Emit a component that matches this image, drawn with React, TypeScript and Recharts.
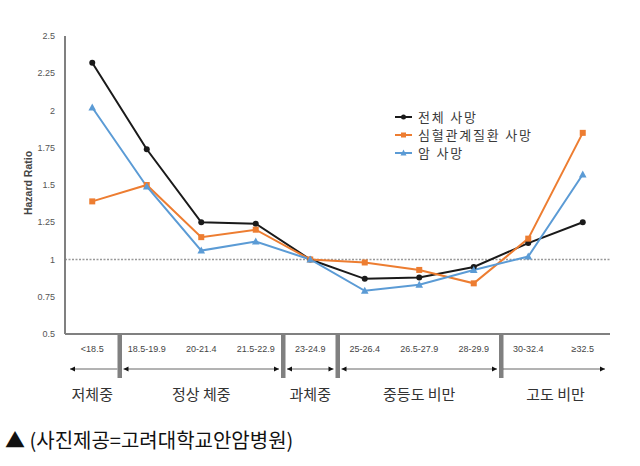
import { LineChart, Line, XAxis, YAxis, ReferenceLine, Legend } from "recharts"

// BMI categories and hazard ratios per cause of death
const bmiRanges = ["<18.5", "18.5-19.9", "20-21.4", "21.5-22.9", "23-24.9", "25-26.4", "26.5-27.9", "28-29.9", "30-32.4", "≥32.5"]
const allCause = [2.32, 1.74, 1.25, 1.24, 1.0, 0.87, 0.88, 0.95, 1.11, 1.25]
const cardiovascular = [1.39, 1.5, 1.15, 1.2, 1.0, 0.98, 0.93, 0.84, 1.14, 1.85]
const cancer = [2.02, 1.49, 1.06, 1.12, 1.0, 0.79, 0.83, 0.93, 1.02, 1.57]
const yTicks = [0.5, 0.75, 1, 1.25, 1.5, 1.75, 2, 2.25, 2.5]

// weight classes under the axis and how many BMI ranges each spans
const groupNames = ["저체중", "정상 체중", "과체중", "중등도 비만", "고도 비만"]
const groupSizes = [1, 3, 1, 3, 2]

const seriesOrder = ["all", "cvd", "cancer"]

const CHART_W = 640
const CHART_H = 410
const PLOT_LEFT = 65
const PLOT_RIGHT = 610
const BAND = (PLOT_RIGHT - PLOT_LEFT) / bmiRanges.length

const BLACK = "#1a1a1a"
const ORANGE = "#ED7D31"
const BLUE = "#5B9BD5"
const AXIS = "#808080"
const KR = "'Noto Sans CJK KR', 'Noto Sans', sans-serif"
const SMALL = "'Liberation Sans Narrow', 'Liberation Sans', sans-serif"

const data = bmiRanges.map((range, i) => ({
  range,
  all: allCause[i],
  cvd: cardiovascular[i],
  cancer: cancer[i],
}))

const groupStarts = groupSizes.map((_, g) => groupSizes.slice(0, g).reduce((a, b) => a + b, 0))

function CircleDot(props: any) {
  const { cx, cy, stroke } = props
  return <circle cx={cx} cy={cy} r={3} fill={stroke} stroke="none" />
}

function SquareDot(props: any) {
  const { cx, cy, stroke } = props
  return <rect x={cx - 3} y={cy - 3} width={6} height={6} fill={stroke} />
}

function TriangleDot(props: any) {
  const { cx, cy, stroke } = props
  return <path d={`M${cx},${cy - 4}L${cx + 3.8},${cy + 3}L${cx - 3.8},${cy + 3}Z`} fill={stroke} />
}

function arrowHead(x: number, y: number, dir: number) {
  return <path d={`M${x},${y}L${x - dir * 5},${y - 2.5}L${x - dir * 5},${y + 2.5}Z`} fill="#111" />
}

function BmiTick(props: any) {
  const { x, y, payload, index } = props
  const half = BAND / 2
  const g = groupStarts.indexOf(index)
  const last = groupNames.length - 1
  let group = null
  if (g >= 0) {
    const left = x - half
    const right = x + (groupSizes[g] - 1) * BAND + half
    const ay = y + 35
    const x1 = g === 0 ? left + 5 : g === last ? left + 2 : left + 4
    const x2 = g === 0 ? right - 2 : g === last ? right - 5 : right - 4
    group = (
      <g>
        <line x1={x1} y1={ay} x2={x2} y2={ay} stroke="#666" strokeWidth={1} />
        {g !== last && arrowHead(x1, ay, -1)}
        {g !== 0 && arrowHead(x2, ay, 1)}
        {g !== last && <rect x={right - 2} y={y} width={4.5} height={44} fill={AXIS} />}
        <text x={(left + right) / 2} y={y + 66} textAnchor="middle" fontSize={15} fill="#333" fontFamily={KR}>
          {groupNames[g]}
        </text>
      </g>
    )
  }
  return (
    <g>
      <text x={x} y={y + 18} textAnchor="middle" fontSize={9} fill="#444" fontFamily={SMALL}>
        {payload.value}
      </text>
      {group}
    </g>
  )
}

const legendMarkers: Record<string, (c: string) => any> = {
  all: (c) => <circle cx={8.5} cy={5} r={2.5} fill={c} />,
  cvd: (c) => <rect x={6} y={2.5} width={5} height={5} fill={c} />,
  cancer: (c) => <path d="M8.5,1.5L11.5,7.5L5.5,7.5Z" fill={c} />,
}

function LegendContent(props: any) {
  const items = [...(props.payload ?? [])].sort(
    (a: any, b: any) => seriesOrder.indexOf(a.dataKey) - seriesOrder.indexOf(b.dataKey)
  )
  return (
    <div style={{ fontFamily: KR, fontSize: 13, lineHeight: "18px", letterSpacing: 1.8, color: "#3a3a3a" }}>
      {items.map((item: any) => (
        <div key={item.value} style={{ display: "flex", alignItems: "center", height: 18 }}>
          <svg width={17} height={10} style={{ marginRight: 6 }}>
            <line x1={0} y1={5} x2={17} y2={5} stroke={item.color} strokeWidth={2} />
            {legendMarkers[item.dataKey]?.(item.color)}
          </svg>
          <span>{item.value}</span>
        </div>
      ))}
    </div>
  )
}

export default function App() {
  return (
    <div style={{ position: "absolute", left: 0, top: 0, width: 640, height: 466, background: "#fff" }}>
      <LineChart
        width={CHART_W}
        height={CHART_H}
        data={data}
        margin={{ top: 36, right: CHART_W - PLOT_RIGHT, left: 15, bottom: 6 }}
      >
        <XAxis
          dataKey="range"
          height={70}
          padding={{ left: BAND / 2, right: BAND / 2 }}
          tickSize={0}
          tickMargin={0}
          tickLine={false}
          interval={0}
          axisLine={{ stroke: AXIS, strokeWidth: 2 }}
          tick={<BmiTick />}
        />
        <YAxis
          domain={[0.5, 2.5]}
          ticks={yTicks}
          width={50}
          tickLine={false}
          tickMargin={4}
          axisLine={{ stroke: AXIS, strokeWidth: 2 }}
          tick={{ fontSize: 9, fill: "#555", fontFamily: SMALL }}
          label={{
            value: "Hazard Ratio",
            angle: -90,
            position: "insideLeft",
            dx: 8,
            dy: -2,
            style: { fontSize: 10.5, fontWeight: "bold", fill: "#444", fontFamily: "'Liberation Sans', sans-serif", textAnchor: "middle" },
          }}
        />
        <ReferenceLine y={1} stroke="#999" strokeWidth={1.5} strokeDasharray="2 1.5" />
        <Legend
          layout="vertical"
          align="center"
          verticalAlign="middle"
          wrapperStyle={{ left: 395, top: 107.5, width: 200 }}
          content={<LegendContent />}
        />
        <Line
          dataKey="all"
          name="전체 사망"
          stroke={BLACK}
          strokeWidth={2}
          dot={<CircleDot />}
          activeDot={false}
          isAnimationActive={false}
        />
        <Line
          dataKey="cvd"
          name="심혈관계질환 사망"
          stroke={ORANGE}
          strokeWidth={2}
          dot={<SquareDot />}
          activeDot={false}
          isAnimationActive={false}
        />
        <Line
          dataKey="cancer"
          name="암 사망"
          stroke={BLUE}
          strokeWidth={2}
          dot={<TriangleDot />}
          activeDot={false}
          isAnimationActive={false}
        />
      </LineChart>
      <div style={{ position: "absolute", left: 5, top: 425, fontFamily: KR, fontSize: 20, lineHeight: "30px", color: "#111", whiteSpace: "nowrap" }}>
        ▲ (사진제공=고려대학교안암병원)
      </div>
    </div>
  )
}
